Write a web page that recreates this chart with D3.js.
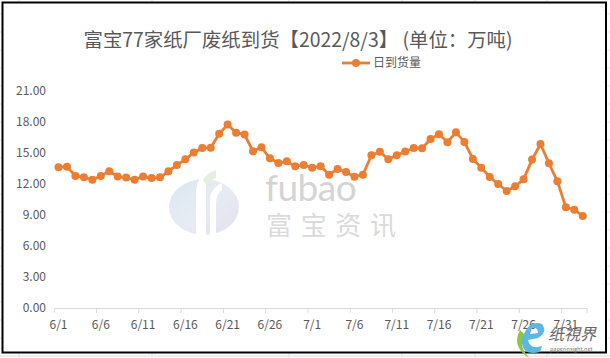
<!DOCTYPE html>
<html>
<head>
<meta charset="utf-8">
<script src="https://cdn.jsdelivr.net/npm/d3@7"></script>
<style>
  body { margin: 0; background: #fff; }
  svg { display: block; font-family: "Microsoft YaHei", "Noto Sans CJK SC", sans-serif; }
</style>
</head>
<body>
<svg id="chart" width="610" height="358"></svg>
<script>
// daily arrivals, 6/1 .. 8/2 (万吨)
const days = []
for (let d = 1; d <= 30; d++) days.push("6/" + d)
for (let d = 1; d <= 31; d++) days.push("7/" + d)
days.push("8/1", "8/2")

const arrivals = [
  13.62, 13.68, 12.78, 12.65, 12.42, 12.78, 13.23, 12.72, 12.62, 12.42,
  12.72, 12.58, 12.65, 13.23, 13.84, 14.39, 15.04, 15.49, 15.50, 16.87,
  17.75, 16.97, 16.78, 15.17, 15.55, 14.49, 14.03, 14.20, 13.71, 13.84,
  13.58, 13.71, 12.90, 13.45, 13.16, 12.71, 12.90, 14.78, 15.13, 14.39,
  14.78, 15.15, 15.49, 15.46, 16.36, 16.81, 16.04, 17.00, 16.07, 14.42,
  13.58, 12.68, 12.00, 11.32, 11.78, 12.45, 14.36, 15.87, 14.00, 12.26,
  9.75, 9.52, 8.90
]
const yTicks = [0, 3, 6, 9, 12, 15, 18, 21]
const title = "富宝77家纸厂废纸到货【2022/8/3】 (单位：万吨)"
const seriesName = "日到货量"

const orange = "#ED7D31", grey = "#595959"
const svg = d3.select("#chart")

// spreadsheet grid behind the chart frame
const gridColor = "#dbe1ea"
d3.range(14, 358, 18).forEach(y => {
  svg.append("line").attr("x1", 0).attr("x2", 610).attr("y1", y).attr("y2", y)
    .attr("stroke", gridColor).attr("stroke-width", 1)
})
;[19, 152, 289, 402, 475, 547].forEach(x => {
  svg.append("line").attr("x1", x).attr("x2", x).attr("y1", 0).attr("y2", 358)
    .attr("stroke", gridColor).attr("stroke-width", 1)
})
svg.append("rect").attr("x", 2.5).attr("y", 2.5).attr("width", 603.5).attr("height", 350)
  .attr("fill", "#fff").attr("stroke", "#000").attr("stroke-width", 2)

const x = d3.scaleBand().domain(days).range([54.3, 587]).padding(0)
const y = d3.scaleLinear().domain([0, 21]).range([308, 91])
const cx = d => x(d) + x.bandwidth() / 2

// watermark
const wm = svg.append("g")
const grad = svg.append("defs").append("linearGradient").attr("id", "wmg")
  .attr("x1", 0).attr("y1", 0).attr("x2", 1).attr("y2", 1)
grad.append("stop").attr("offset", 0).attr("stop-color", "#dbe6f1")
grad.append("stop").attr("offset", 0.5).attr("stop-color", "#e6ecf3")
grad.append("stop").attr("offset", 1).attr("stop-color", "#e4e0ee")
wm.append("ellipse").attr("cx", 204).attr("cy", 207).attr("rx", 35).attr("ry", 28)
  .attr("fill", "url(#wmg)")
wm.append("path").attr("d", "M196 236 L196 190 Q198 178 206 172 L206 236 Z").attr("fill", "#fff")
wm.append("path").attr("d", "M210 236 L210 196 Q214 186 222 183 L222 190 Q216 194 216 204 L216 236 Z").attr("fill", "#fff")
wm.append("path").attr("d", "M203 180 Q208 172 216 170 L216 178 Q210 180 207 186 Z").attr("fill", "#e4efdf")
wm.append("text").attr("x", 265).attr("y", 201).attr("font-size", 37)
  .attr("font-family", "Lato, 'Open Sans', sans-serif").attr("letter-spacing", -0.5)
  .attr("fill", "#d4d4d4").text("fubao")
wm.append("text").attr("x", 266).attr("y", 235).attr("font-size", 26)
  .attr("textLength", 130).attr("fill", "#dadada").text("富宝资讯")

// title + legend
svg.append("text").attr("x", 298).attr("y", 47).attr("text-anchor", "middle")
  .attr("font-size", 19.4).attr("fill", grey).text(title)
const lg = svg.append("g").attr("transform", "translate(342,63)")
lg.append("line").attr("x1", 0).attr("x2", 28).attr("stroke", orange).attr("stroke-width", 2.8)
lg.append("circle").attr("cx", 14).attr("r", 4).attr("fill", orange)
lg.append("text").attr("x", 31).attr("y", 4).attr("font-size", 12).attr("fill", grey).text(seriesName)

// y axis labels (no line, no gridlines)
svg.selectAll("text.ytick").data(yTicks).join("text").attr("class", "ytick")
  .attr("x", 46).attr("y", d => y(d) + 4).attr("text-anchor", "end")
  .attr("font-size", 12).attr("fill", grey).text(d => d.toFixed(2))

// x axis
const tickDays = days.filter((d, i) => i % 5 === 0)
svg.append("line").attr("x1", 54.3).attr("x2", 587).attr("y1", 308.5).attr("y2", 308.5)
  .attr("stroke", "#d9d9d9").attr("stroke-width", 1)
svg.selectAll("line.xtick").data(tickDays.concat(["end"])).join("line").attr("class", "xtick")
  .attr("x1", d => d === "end" ? 587 : x(d)).attr("x2", d => d === "end" ? 587 : x(d))
  .attr("y1", 308.5).attr("y2", 313).attr("stroke", "#d9d9d9")
svg.selectAll("text.xtick").data(tickDays).join("text").attr("class", "xtick")
  .attr("x", cx).attr("y", 329).attr("text-anchor", "middle")
  .attr("font-size", 12).attr("fill", grey).text(d => d)

// series
const line = d3.line().x((d, i) => cx(days[i])).y(d => y(d))
svg.append("path").attr("d", line(arrivals)).attr("fill", "none")
  .attr("stroke", orange).attr("stroke-width", 2.8).attr("stroke-linejoin", "round")
svg.selectAll("circle.pt").data(arrivals).join("circle").attr("class", "pt")
  .attr("cx", (d, i) => cx(days[i])).attr("cy", d => y(d)).attr("r", 4).attr("fill", orange)

// corner logo
const lo = svg.append("g")
lo.append("path").attr("d", "M520 330 Q512 345 526 356 L530 358 Q518 348 524 334 Z").attr("fill", "#8dc63f")
lo.append("path").attr("d", "M524 334 Q530 320 542 324 Q548 332 538 338 L528 340 Q530 350 542 346 L540 352 Q524 356 522 344 Q521 338 524 334 Z M530 334 L538 333 Q538 327 532 328 Z")
  .attr("fill", "#5bb8e0")
lo.append("text").attr("x", 548).attr("y", 340).attr("font-size", 16).attr("fill", "#666")
  .attr("font-style", "italic").text("纸視界")
lo.append("text").attr("x", 550).attr("y", 351).attr("font-size", 5.5).attr("fill", "#777")
  .text("paperinsight.net")
</script>
</body>
</html>
